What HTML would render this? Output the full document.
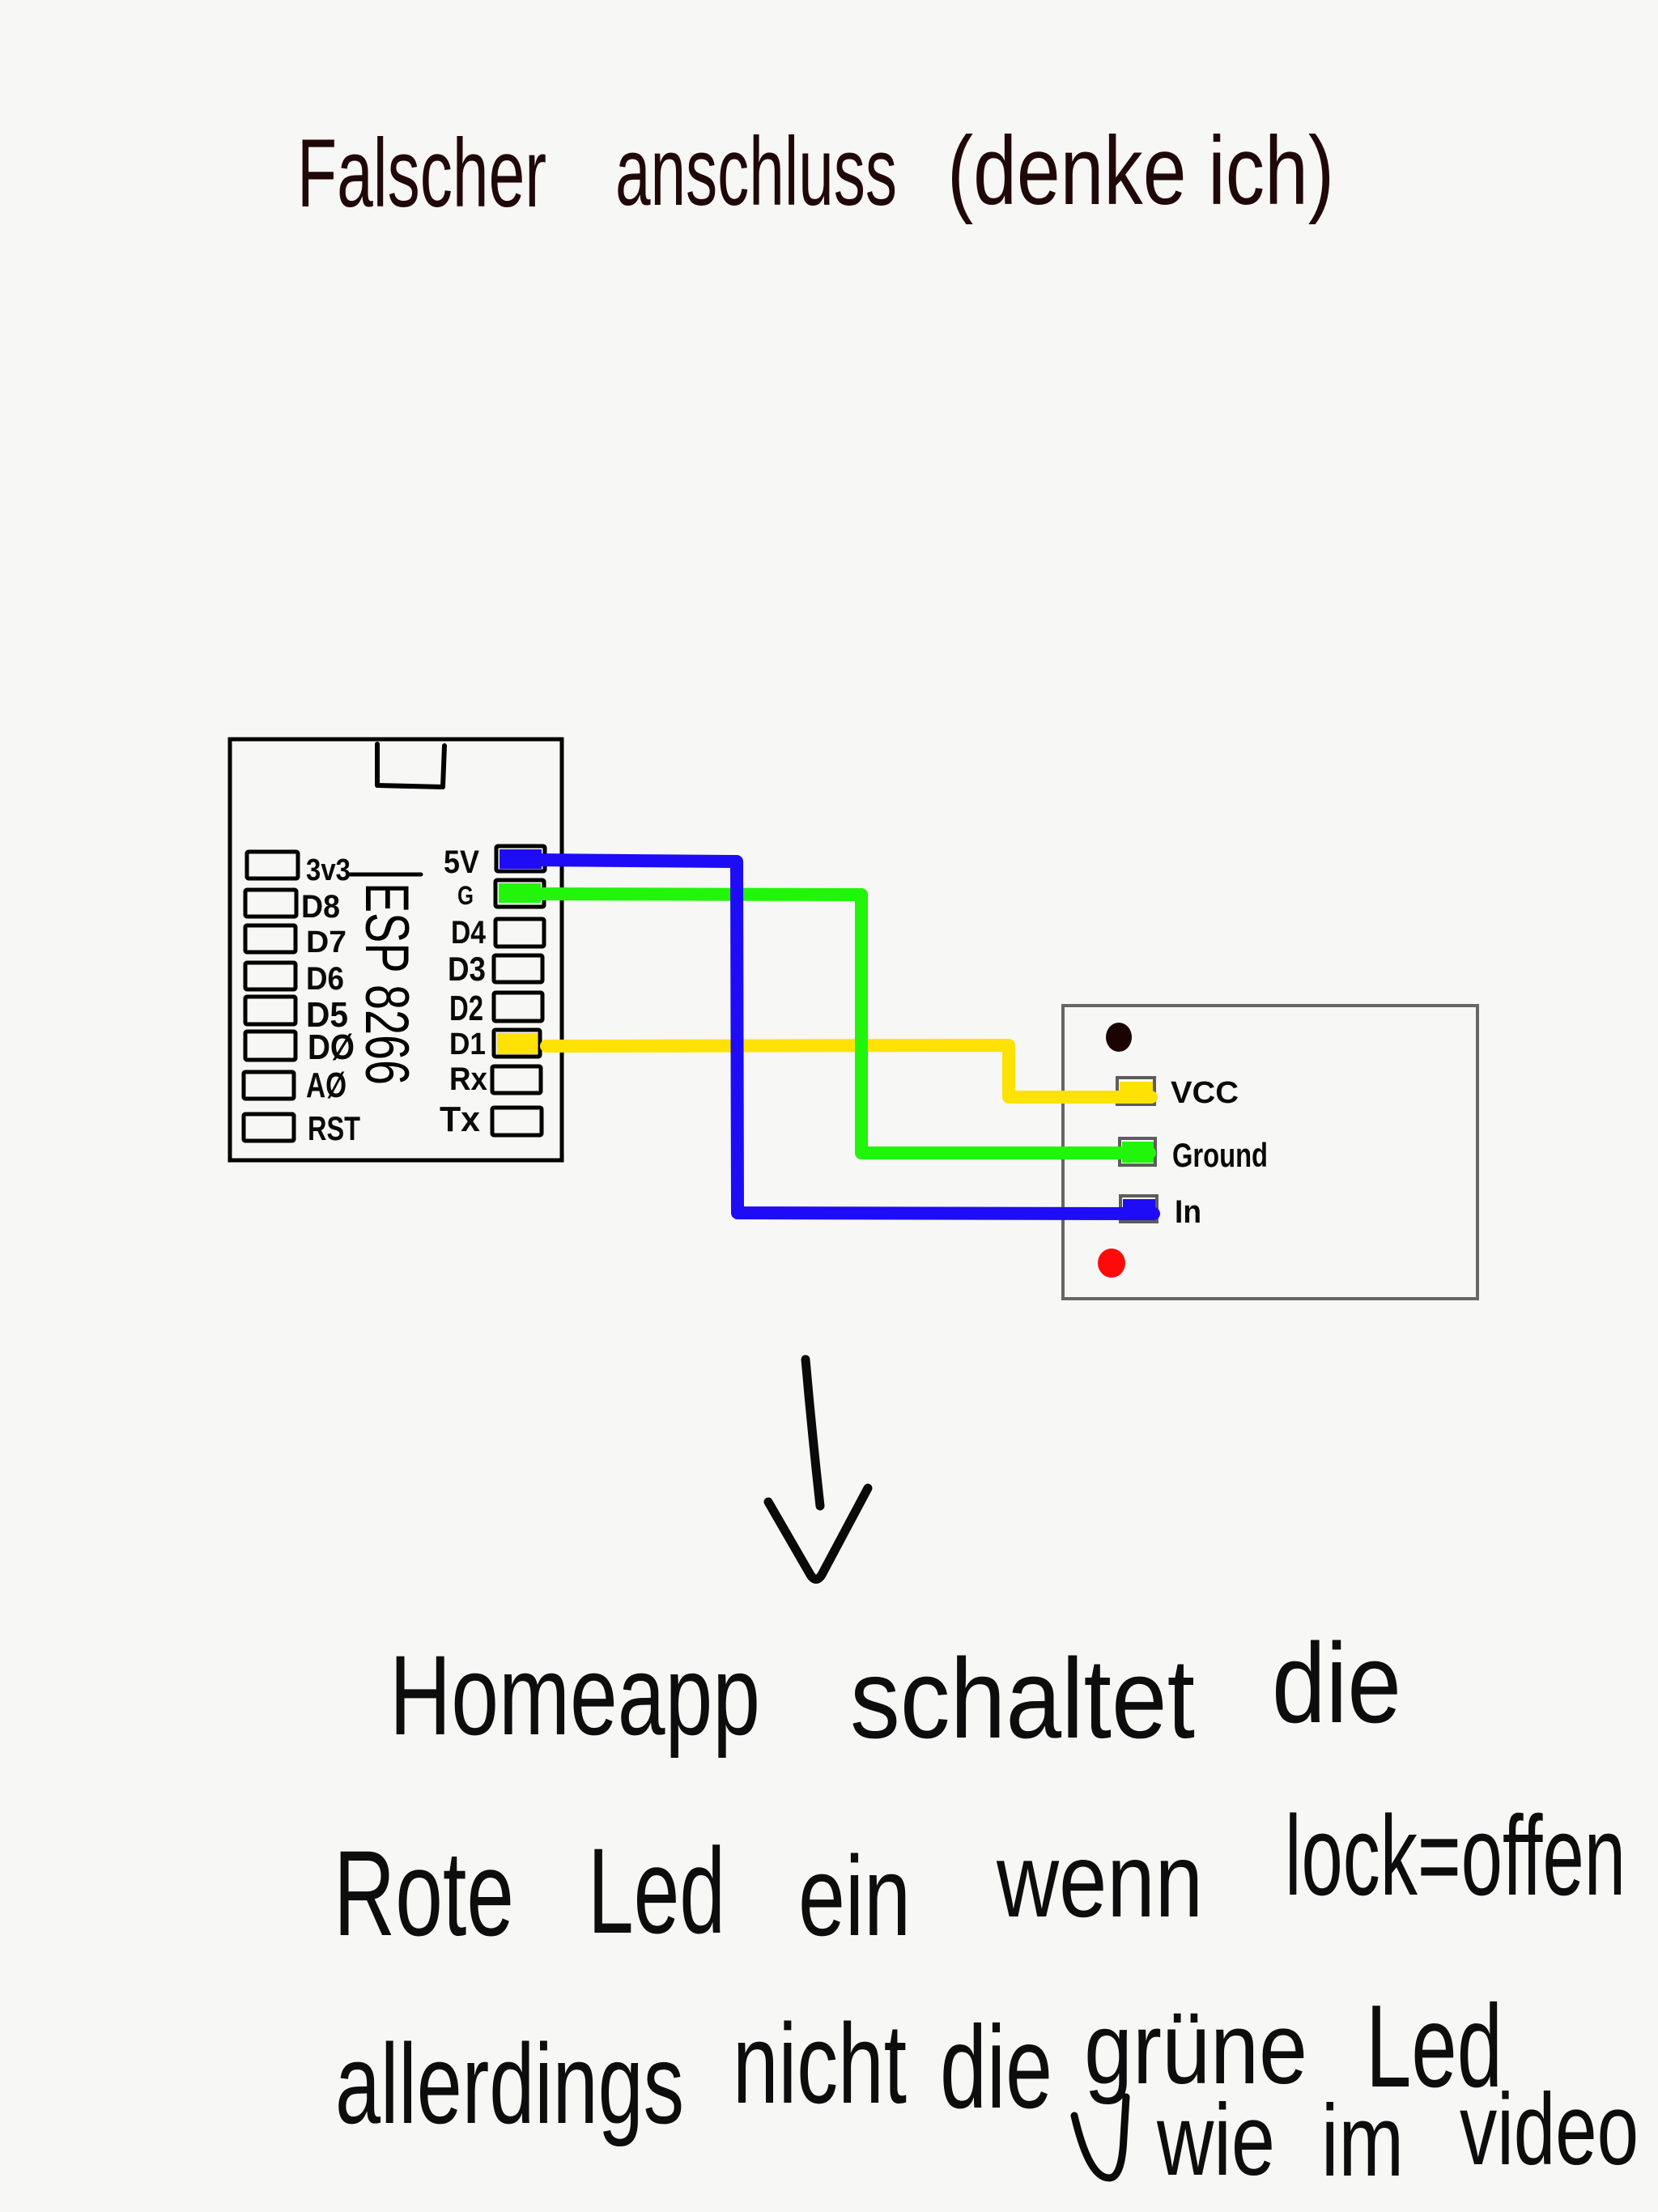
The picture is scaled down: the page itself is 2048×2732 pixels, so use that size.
<!DOCTYPE html>
<html>
<head>
<meta charset="utf-8">
<style>
  html, body { margin: 0; padding: 0; background: #f7f7f5; }
  svg { display: block; }
  .hw { font-family: "Liberation Sans", "DejaVu Sans", sans-serif; fill: #0d0d0d; }
  .tt { font-family: "Liberation Sans", "DejaVu Sans", sans-serif; fill: #200808; }
  .lb { font-family: "Liberation Sans", "DejaVu Sans", sans-serif; font-weight: bold; fill: #0a0a0a; }
</style>
</head>
<body>
<svg width="2048" height="2732" viewBox="0 0 2048 2732" xmlns="http://www.w3.org/2000/svg">
  <rect x="0" y="0" width="2048" height="2732" fill="#f7f7f5"/>

  <!-- Title -->
  <text class="tt" x="367" y="255" font-size="120" textLength="308" lengthAdjust="spacingAndGlyphs">Falscher</text>
  <text class="tt" x="760" y="253" font-size="120" textLength="348" lengthAdjust="spacingAndGlyphs">anschluss</text>
  <text class="tt" x="1170" y="252" font-size="120" textLength="478" lengthAdjust="spacingAndGlyphs">(denke ich)</text>

  <!-- ESP board -->
  <rect x="284" y="913" width="410" height="520" fill="none" stroke="#000" stroke-width="5"/>
  <path d="M466 919 L466 970 L547 972 L549 921" fill="none" stroke="#000" stroke-width="6" stroke-linejoin="round" stroke-linecap="round"/>

  <!-- left pads -->
  <g fill="none" stroke="#000" stroke-width="5">
    <rect x="305" y="1052" width="63" height="33" rx="2"/>
    <rect x="303" y="1099" width="63" height="33" rx="2"/>
    <rect x="303" y="1143" width="62" height="33" rx="2"/>
    <rect x="303" y="1189" width="62" height="33" rx="2"/>
    <rect x="303" y="1231" width="62" height="34" rx="2"/>
    <rect x="303" y="1274" width="62" height="35" rx="2"/>
    <rect x="301" y="1324" width="62" height="33" rx="2"/>
    <rect x="301" y="1376" width="62" height="33" rx="2"/>
  </g>
  <!-- right pads fills -->
  <rect x="617" y="1049" width="52" height="24" fill="#1d0cf5"/>
  <rect x="616" y="1091" width="52" height="24" fill="#20f50a"/>
  <rect x="614" y="1276" width="50" height="26" fill="#ffe104"/>
  <!-- right pads -->
  <g fill="none" stroke="#000" stroke-width="5">
    <rect x="613" y="1045" width="60" height="31" rx="2"/>
    <rect x="612" y="1087" width="60" height="33" rx="2"/>
    <rect x="612" y="1135" width="60" height="34" rx="2"/>
    <rect x="610" y="1180" width="60" height="33" rx="2"/>
    <rect x="610" y="1226" width="60" height="35" rx="2"/>
    <rect x="610" y="1272" width="57" height="33" rx="2"/>
    <rect x="608" y="1317" width="60" height="33" rx="2"/>
    <rect x="608" y="1368" width="61" height="34" rx="2"/>
  </g>

  <!-- left labels -->
  <text class="lb" x="378" y="1087" font-size="38" textLength="55" lengthAdjust="spacingAndGlyphs">3v3</text>
  <text class="lb" x="372" y="1133" font-size="40" textLength="48" lengthAdjust="spacingAndGlyphs">D8</text>
  <text class="lb" x="378" y="1176" font-size="38" textLength="50" lengthAdjust="spacingAndGlyphs">D7</text>
  <text class="lb" x="378" y="1222" font-size="40" textLength="47" lengthAdjust="spacingAndGlyphs">D6</text>
  <text class="lb" x="378" y="1268" font-size="44" textLength="52" lengthAdjust="spacingAndGlyphs">D5</text>
  <text class="lb" x="380" y="1308" font-size="44" textLength="58" lengthAdjust="spacingAndGlyphs">DØ</text>
  <text class="lb" x="378" y="1355" font-size="44" textLength="50" lengthAdjust="spacingAndGlyphs">AØ</text>
  <text class="lb" x="380" y="1408" font-size="42" textLength="65" lengthAdjust="spacingAndGlyphs">RST</text>

  <!-- right labels -->
  <text class="lb" x="548" y="1078" font-size="40" textLength="44" lengthAdjust="spacingAndGlyphs">5V</text>
  <text class="lb" x="565" y="1117" font-size="32" textLength="20" lengthAdjust="spacingAndGlyphs">G</text>
  <text class="lb" x="557" y="1165" font-size="40" textLength="43" lengthAdjust="spacingAndGlyphs">D4</text>
  <text class="lb" x="553" y="1211" font-size="42" textLength="47" lengthAdjust="spacingAndGlyphs">D3</text>
  <text class="lb" x="555" y="1260" font-size="44" textLength="42" lengthAdjust="spacingAndGlyphs">D2</text>
  <text class="lb" x="555" y="1302" font-size="38" textLength="45" lengthAdjust="spacingAndGlyphs">D1</text>
  <text class="lb" x="555" y="1346" font-size="40" textLength="47" lengthAdjust="spacingAndGlyphs">Rx</text>
  <text class="lb" x="543" y="1397" font-size="44" textLength="50" lengthAdjust="spacingAndGlyphs">Tx</text>

  <!-- ESP 8266 rotated -->
  <path d="M432 1080 L520 1080" stroke="#000" stroke-width="5" stroke-linecap="round"/>
  <text class="hw" transform="translate(452,1090) rotate(90)" x="0" y="0" font-size="76" textLength="250" lengthAdjust="spacingAndGlyphs" style="fill:#000">ESP 8266</text>

  <!-- Module -->
  <rect x="1313" y="1242" width="512" height="362" fill="none" stroke="#666" stroke-width="4"/>
  <ellipse cx="1382" cy="1281" rx="16" ry="18" fill="#1a0303"/>
  <ellipse cx="1373" cy="1560" rx="17" ry="18" fill="#ff0a0a"/>
  <rect x="1383" y="1336" width="41" height="25" fill="#ffe104"/>
  <rect x="1386" y="1410" width="39" height="26" fill="#20f50a"/>
  <rect x="1387" y="1481" width="40" height="25" fill="#1d0cf5"/>
  <g fill="none" stroke="#5d5d5d" stroke-width="4">
    <rect x="1380" y="1331" width="46" height="33"/>
    <rect x="1383" y="1406" width="44" height="33"/>
    <rect x="1384" y="1477" width="45" height="32"/>
  </g>
  <text class="lb" x="1446" y="1362" font-size="38" textLength="84" lengthAdjust="spacingAndGlyphs">VCC</text>
  <text class="lb" x="1448" y="1441" font-size="42" textLength="118" lengthAdjust="spacingAndGlyphs">Ground</text>
  <text class="lb" x="1451" y="1510" font-size="40" textLength="33" lengthAdjust="spacingAndGlyphs">In</text>

  <!-- Wires -->
  <g fill="none" stroke-width="16" stroke-linecap="round" stroke-linejoin="round">
    <path d="M675 1292 L1246 1291 L1246 1355 L1422 1355" stroke="#ffe104"/>
    <path d="M660 1104 L1064 1105 L1064 1424 L1420 1424" stroke="#20f50a"/>
    <path d="M660 1062 L910 1064 L911 1498 L1425 1499" stroke="#1d0cf5"/>
  </g>

  <!-- Arrow -->
  <g fill="none" stroke="#0a0a0a" stroke-width="11" stroke-linecap="round" stroke-linejoin="round">
    <path d="M995 1679 Q1003 1770 1013 1860"/>
    <path d="M949 1855 L1001 1945 Q1008 1956 1015 1945 L1072 1838"/>
  </g>

  <!-- Line 1 -->
  <text class="hw" x="481" y="2142" font-size="140" textLength="458" lengthAdjust="spacingAndGlyphs">Homeapp</text>
  <text class="hw" x="1050" y="2146" font-size="140" textLength="426" lengthAdjust="spacingAndGlyphs">schaltet</text>
  <text class="hw" x="1571" y="2127" font-size="140" textLength="160" lengthAdjust="spacingAndGlyphs">die</text>

  <!-- Line 2 -->
  <text class="hw" x="412" y="2390" font-size="150" textLength="223" lengthAdjust="spacingAndGlyphs">Rote</text>
  <text class="hw" x="726" y="2387" font-size="150" textLength="170" lengthAdjust="spacingAndGlyphs">Led</text>
  <text class="hw" x="986" y="2390" font-size="140" textLength="139" lengthAdjust="spacingAndGlyphs">ein</text>
  <text class="hw" x="1231" y="2367" font-size="130" textLength="255" lengthAdjust="spacingAndGlyphs">wenn</text>
  <text class="hw" x="1587" y="2340" font-size="140" textLength="421" lengthAdjust="spacingAndGlyphs">lock=offen</text>

  <!-- Line 3 -->
  <text class="hw" x="414" y="2622" font-size="140" textLength="431" lengthAdjust="spacingAndGlyphs">allerdings</text>
  <text class="hw" x="905" y="2597" font-size="140" textLength="215" lengthAdjust="spacingAndGlyphs">nicht</text>
  <text class="hw" x="1161" y="2603" font-size="145" textLength="139" lengthAdjust="spacingAndGlyphs">die</text>
  <text class="hw" x="1339" y="2573" font-size="125" textLength="276" lengthAdjust="spacingAndGlyphs">grüne</text>
  <text class="hw" x="1687" y="2577" font-size="145" textLength="169" lengthAdjust="spacingAndGlyphs">Led</text>

  <!-- insertion hook -->
  <path d="M1327 2613 Q1345 2690 1370 2690 Q1386 2690 1388 2640 L1391 2590" fill="none" stroke="#0a0a0a" stroke-width="9" stroke-linecap="round"/>
  <text class="hw" x="1429" y="2686" font-size="125" textLength="146" lengthAdjust="spacingAndGlyphs">wie</text>
  <text class="hw" x="1632" y="2687" font-size="125" textLength="102" lengthAdjust="spacingAndGlyphs">im</text>
  <text class="hw" x="1803" y="2673" font-size="125" textLength="221" lengthAdjust="spacingAndGlyphs">video</text>
</svg>
</body>
</html>
